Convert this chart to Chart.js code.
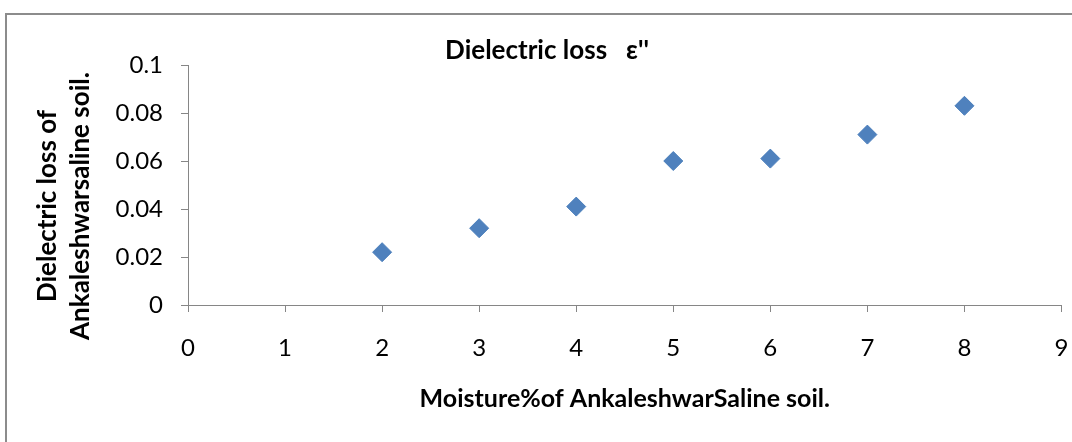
<!DOCTYPE html>
<html>
<head>
<meta charset="utf-8">
<script src="https://cdn.jsdelivr.net/npm/chart.js@4"></script>
<style>
  html, body { margin: 0; padding: 0; background: #fff; overflow: hidden; }
  #wrap { position: relative; width: 1072px; height: 442px; }
  #frame {
    position: absolute; left: 5px; top: 13px; width: 1200px; height: 600px;
    border-left: 2px solid #8c8c8c; border-top: 2px solid #8c8c8c;
  }
  #chart { position: absolute; left: 0; top: 0; }
</style>
</head>
<body>
<div id="wrap">
  <div id="frame"></div>
  <canvas id="chart" width="1072" height="442"></canvas>
</div>
<script>
// === Data ===
const moisture = [2, 3, 4, 5, 6, 7, 8];
const dielectricLoss = [0.022, 0.032, 0.041, 0.060, 0.061, 0.071, 0.083];

const chartTitle = "Dielectric loss   \u03b5''";
const xTitle = "Moisture%of AnkaleshwarSaline soil.";
const yTitle = ["Dielectric loss of", "Ankaleshwarsaline soil."];

const FONT = "Lato, 'Liberation Sans', sans-serif";
const axisGray = "#868686";

// chart title and y title sit off-centre in the original, so draw them here
const titlesPlugin = {
  id: "offTitles",
  afterDraw(chart) {
    const c = chart.ctx;
    c.save();
    c.fillStyle = "#000";
    c.textAlign = "center";
    c.textBaseline = "middle";
    c.font = "bold 26px " + FONT;
    c.fillText(chartTitle, 547, 51);

    c.translate(48, 206);
    c.rotate(-Math.PI / 2);
    yTitle.forEach((line, i) => c.fillText(line, 0, i * 33));
    c.restore();
  },
};

new Chart(document.getElementById("chart"), {
  type: "scatter",
  data: {
    datasets: [
      {
        data: moisture.map((m, i) => ({ x: m, y: dielectricLoss[i] })),
        pointStyle: "rectRot",
        pointRadius: 9.5,
        pointHoverRadius: 9.5,
        backgroundColor: "#4F81BD",
        borderColor: "#4A7EBB",
        borderWidth: 1,
      },
    ],
  },
  options: {
    responsive: false,
    animation: false,
    events: [],
    layout: { padding: { left: 0, top: 65, right: 9, bottom: 0 } },
    plugins: { legend: { display: false }, tooltip: { enabled: false }, title: { display: false } },
    scales: {
      x: {
        type: "linear",
        min: 0,
        max: 9,
        ticks: { stepSize: 1, color: "#000", font: { family: FONT, size: 24 }, padding: 22 },
        grid: { drawOnChartArea: false, color: axisGray, tickLength: 7 },
        border: { color: axisGray, width: 1 },
        title: {
          display: true,
          text: xTitle,
          color: "#000",
          font: { family: FONT, size: 25, weight: "bold" },
          padding: { top: 0, bottom: 28 },
        },
        afterFit(scale) {
          scale.height = 137;
          // keep the label padding from shrinking the plot width
          scale.paddingLeft = 0;
          scale.paddingRight = 0;
        },
      },
      y: {
        min: 0,
        max: 0.1,
        ticks: {
          stepSize: 0.02,
          color: "#000",
          font: { family: FONT, size: 24 },
          padding: 18,
          callback: (v) => String(+v.toFixed(2)),
        },
        grid: { drawOnChartArea: false, color: axisGray, tickLength: 7 },
        border: { color: axisGray, width: 1 },
        afterFit(scale) {
          scale.width = 188;
          scale.paddingTop = 0;
          scale.paddingBottom = 0;
        },
      },
    },
  },
  plugins: [titlesPlugin],
});
</script>
</body>
</html>
